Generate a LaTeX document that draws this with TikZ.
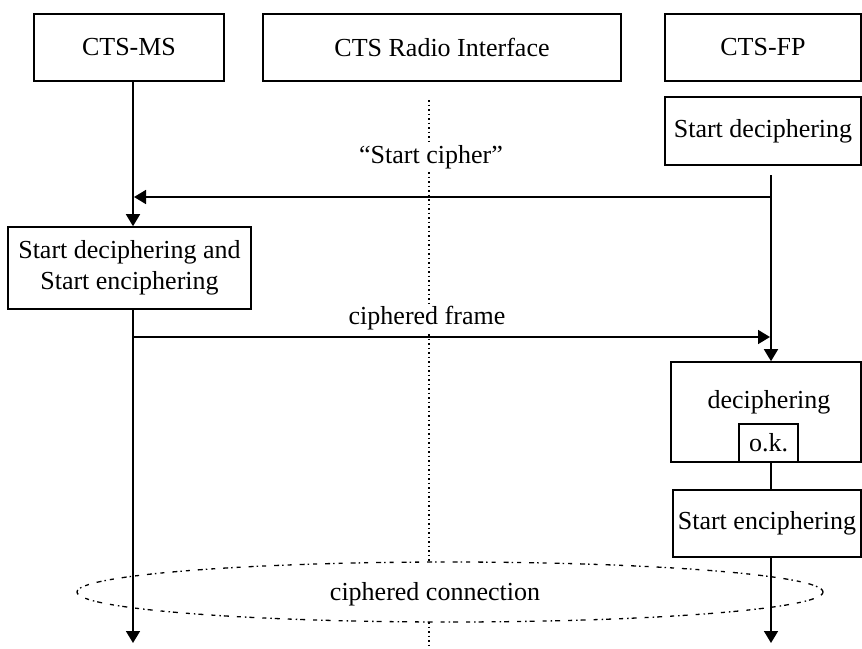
\documentclass[tikz,border=0pt]{standalone}
\usepackage{fontspec}
\setmainfont{Liberation Serif}
\usetikzlibrary{arrows.meta}
\newcommand\dfont{\fontsize{26}{31}\selectfont}
\begin{document}
\begin{tikzpicture}[x=1pt,y=-1pt,
  box/.style={draw, line width=1.6pt, inner sep=0pt, font=\dfont, align=center},
  lbl/.style={inner sep=1pt, font=\dfont},
  life/.style={line width=1.6pt},
  arr/.style={line width=1.6pt, -{Triangle[length=12pt,width=14pt]}},
  radio/.style={line width=1.5pt, dash pattern=on 1.5pt off 3pt},
  conn/.style={line width=1.3pt, dash pattern=on 4pt off 4pt on 1.5pt off 3pt on 5pt off 8pt}]
\useasboundingbox (0,0) rectangle (862,648);
\fill[white] (0,0) rectangle (862,648);
% x positions of lifelines
\coordinate (msx) at (133,0);
\coordinate (rx) at (429,0);
\coordinate (fpx) at (771,0);
% boxes
\node[box, minimum width=190pt, minimum height=67pt] (ms) at (129,47.5) {CTS-MS};
\node[box, minimum width=358pt, minimum height=67pt] (ri) at (442,47.5) {CTS Radio Interface};
\node[box, minimum width=196pt, minimum height=67pt] (fp) at (763,47.5) {CTS-FP};
\node[box, minimum width=196pt, minimum height=68pt] (sdec) at (763,131) {Start deciphering};
\node[box, minimum width=243pt, minimum height=82pt] (msbox) at (129.5,268) {Start deciphering and\\Start enciphering};
\node[box, minimum width=190pt, minimum height=100pt] (decbox) at (766,412) {};
\node[lbl] (dectxt) at (769,402) {deciphering};
\node[box, minimum width=59pt, minimum height=38pt] (ok) at (768.5,443) {o.k.};
\node[box, minimum width=188pt, minimum height=67pt] (senc) at (767,523.5) {Start enciphering};
% radio interface dotted line
\coordinate (rtop) at (429,100);
\coordinate (rbot) at (429,648);
\draw[radio] (rtop) -- (rbot);
% ciphered connection ellipse
\coordinate (ce) at (450,592);
\draw[conn, fill=white] (ce) ellipse [x radius=373pt, y radius=30pt];
\node[lbl] (cc) at (435,594) {ciphered connection};
% message labels
\node[lbl, fill=white] (sc) at (431,157) {“Start cipher”};
\node[lbl, fill=white] (cf) at (427,318) {ciphered frame};
% message y levels
\coordinate (fpstart) at (771,175);
\coordinate (scy) at (0,197);
\coordinate (cfy) at (0,337);
\coordinate (msend) at (133,643);
\coordinate (fpend) at (771,643);
% lifelines
\draw[arr] (msx |- ms.south) -- (msx |- msbox.north);
\draw[arr] (msx |- msbox.south) -- (msend);
\draw[arr] (fpstart) -- (fpx |- decbox.north);
\draw[life] (fpx |- ok.south) -- (fpx |- senc.north);
\draw[arr] (fpx |- senc.south) -- (fpend);
% messages
\draw[arr] (fpx |- scy) -- ([xshift=1pt]msx |- scy);
\draw[arr] (msx |- cfy) -- ([xshift=-1pt]fpx |- cfy);
\end{tikzpicture}
\end{document}
